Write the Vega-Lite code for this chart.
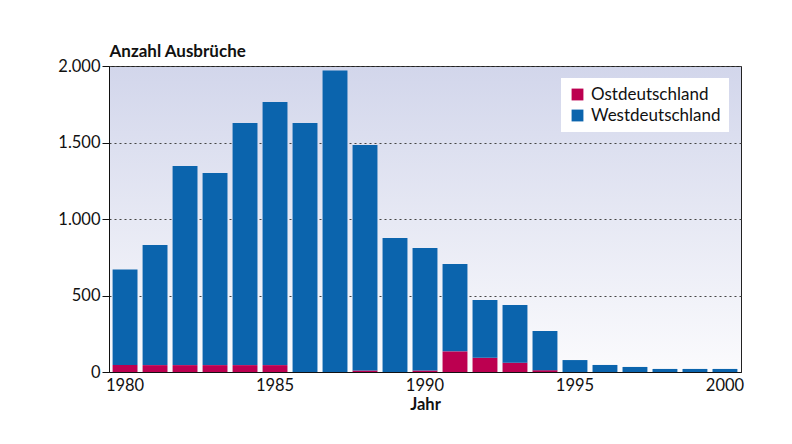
{
  "$schema": "https://vega.github.io/schema/vega-lite/v6.json",
  "width": 632,
  "height": 306,
  "autosize": {"type": "none"},
  "padding": {"left": 109, "top": 66, "right": 51, "bottom": 72},
  "background": "#ffffff",
  "data": {"values": [
    {"Jahr": 1980, "Region": "Ostdeutschland", "Anzahl": 45}, {"Jahr": 1980, "Region": "Westdeutschland", "Anzahl": 625},
    {"Jahr": 1981, "Region": "Ostdeutschland", "Anzahl": 45}, {"Jahr": 1981, "Region": "Westdeutschland", "Anzahl": 785},
    {"Jahr": 1982, "Region": "Ostdeutschland", "Anzahl": 45}, {"Jahr": 1982, "Region": "Westdeutschland", "Anzahl": 1302},
    {"Jahr": 1983, "Region": "Ostdeutschland", "Anzahl": 45}, {"Jahr": 1983, "Region": "Westdeutschland", "Anzahl": 1255},
    {"Jahr": 1984, "Region": "Ostdeutschland", "Anzahl": 45}, {"Jahr": 1984, "Region": "Westdeutschland", "Anzahl": 1583},
    {"Jahr": 1985, "Region": "Ostdeutschland", "Anzahl": 45}, {"Jahr": 1985, "Region": "Westdeutschland", "Anzahl": 1720},
    {"Jahr": 1986, "Region": "Ostdeutschland", "Anzahl": 0}, {"Jahr": 1986, "Region": "Westdeutschland", "Anzahl": 1628},
    {"Jahr": 1987, "Region": "Ostdeutschland", "Anzahl": 0}, {"Jahr": 1987, "Region": "Westdeutschland", "Anzahl": 1970},
    {"Jahr": 1988, "Region": "Ostdeutschland", "Anzahl": 10}, {"Jahr": 1988, "Region": "Westdeutschland", "Anzahl": 1474},
    {"Jahr": 1989, "Region": "Ostdeutschland", "Anzahl": 0}, {"Jahr": 1989, "Region": "Westdeutschland", "Anzahl": 876},
    {"Jahr": 1990, "Region": "Ostdeutschland", "Anzahl": 10}, {"Jahr": 1990, "Region": "Westdeutschland", "Anzahl": 800},
    {"Jahr": 1991, "Region": "Ostdeutschland", "Anzahl": 135}, {"Jahr": 1991, "Region": "Westdeutschland", "Anzahl": 571},
    {"Jahr": 1992, "Region": "Ostdeutschland", "Anzahl": 93}, {"Jahr": 1992, "Region": "Westdeutschland", "Anzahl": 378},
    {"Jahr": 1993, "Region": "Ostdeutschland", "Anzahl": 61}, {"Jahr": 1993, "Region": "Westdeutschland", "Anzahl": 377},
    {"Jahr": 1994, "Region": "Ostdeutschland", "Anzahl": 12}, {"Jahr": 1994, "Region": "Westdeutschland", "Anzahl": 256},
    {"Jahr": 1995, "Region": "Ostdeutschland", "Anzahl": 0}, {"Jahr": 1995, "Region": "Westdeutschland", "Anzahl": 78},
    {"Jahr": 1996, "Region": "Ostdeutschland", "Anzahl": 0}, {"Jahr": 1996, "Region": "Westdeutschland", "Anzahl": 46},
    {"Jahr": 1997, "Region": "Ostdeutschland", "Anzahl": 0}, {"Jahr": 1997, "Region": "Westdeutschland", "Anzahl": 33},
    {"Jahr": 1998, "Region": "Ostdeutschland", "Anzahl": 0}, {"Jahr": 1998, "Region": "Westdeutschland", "Anzahl": 20},
    {"Jahr": 1999, "Region": "Ostdeutschland", "Anzahl": 0}, {"Jahr": 1999, "Region": "Westdeutschland", "Anzahl": 20},
    {"Jahr": 2000, "Region": "Ostdeutschland", "Anzahl": 0}, {"Jahr": 2000, "Region": "Westdeutschland", "Anzahl": 20}
  ]},
  "mark": {"type": "bar"},
  "encoding": {
    "x": {
      "field": "Jahr", "type": "ordinal",
      "scale": {"paddingInner": 0.17, "paddingOuter": 0.12},
      "axis": {
        "values": [1980, 1985, 1990, 1995, 2000],
        "labelAngle": 0, "ticks": false, "labelPadding": 5,
        "title": "Jahr", "titleFontWeight": "bold", "titlePadding": 3
      }
    },
    "y": {
      "field": "Anzahl", "type": "quantitative", "stack": "zero",
      "scale": {"domain": [0, 2000], "nice": false},
      "axis": {
        "values": [0, 500, 1000, 1500, 2000],
        "labelExpr": "replace(format(datum.value, ','), ',', '.')",
        "title": "Anzahl Ausbrüche", "titleAngle": 0, "titleX": 0, "titleY": -6,
        "titleAlign": "left", "titleBaseline": "bottom", "titleFontWeight": "bold",
        "titleFontSize": 17,
        "tickSize": 7, "labelPadding": 2,
        "grid": true, "gridDash": [2, 3], "gridColor": "#444444", "gridWidth": 1
      }
    },
    "color": {
      "field": "Region", "type": "nominal",
      "scale": {"domain": ["Ostdeutschland", "Westdeutschland"], "range": ["#bc0050", "#0b64ad"]},
      "legend": {
        "title": null, "orient": "top-right", "offset": 12,
        "fillColor": "#ffffff", "padding": 8, "symbolType": "square", "symbolSize": 140,
        "symbolStrokeWidth": 0, "symbolOpacity": 1, "labelFontSize": 17, "labelColor": "#111111",
        "rowPadding": 3, "labelOffset": 5
      }
    },
    "order": {"field": "Region", "sort": "ascending"}
  },
  "config": {
    "font": "Lato",
    "view": {
      "stroke": "#222222", "strokeWidth": 1,
      "fill": {"gradient": "linear", "x1": 0, "y1": 0, "x2": 0, "y2": 1,
        "stops": [{"offset": 0, "color": "#d2d6eb"}, {"offset": 1, "color": "#fbfbfd"}]}
    },
    "axis": {
      "labelFontSize": 16.5, "titleFontSize": 16.5, "labelColor": "#111111", "titleColor": "#111111",
      "domainColor": "#111111", "tickColor": "#111111", "labelFont": "Lato", "titleFont": "Lato"
    },
    "legend": {"labelFont": "Lato"}
  }
}
